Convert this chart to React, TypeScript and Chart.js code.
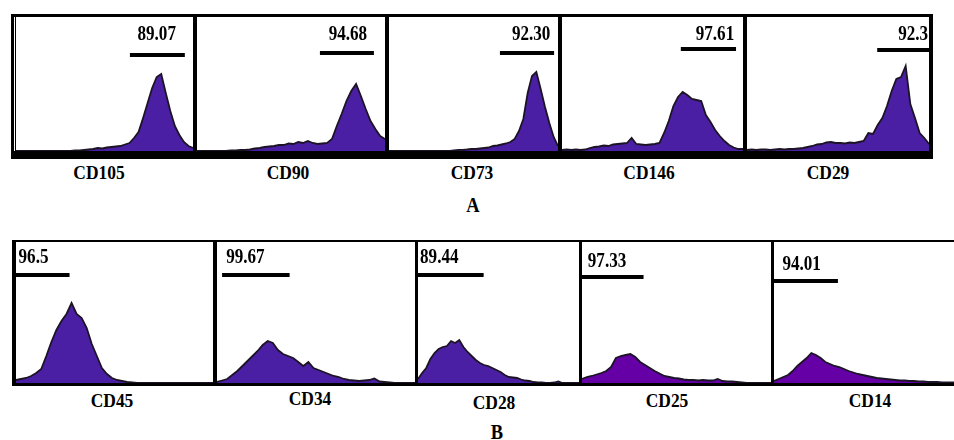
import React, { useEffect, useRef } from "react";
import { Chart, registerables } from "chart.js";

Chart.register(...registerables);

// ---- Data (event counts per fluorescence bin) ----
const markers = ["CD105", "CD90", "CD73", "CD146", "CD29", "CD45", "CD34", "CD28", "CD25", "CD14"];
const percents = ["89.07", "94.68", "92.30", "97.61", "92.3", "96.5", "99.67", "89.44", "97.33", "94.01"];

const cd105 = [0, 0, 0, 0, 0, 0, 0, 0, 0, 0, 0, 0, 0, 0.5, 0.5, 1, 1.5, 2, 3, 2.5, 3.5, 4, 4.5, 5, 6.5, 8, 13, 19, 33, 48, 63, 74, 77, 58, 40, 25, 16, 9, 5, 3];
const cd90 = [0, 0, 0, 0, 0, 0, 0, 0.5, 0.5, 1, 1, 1.5, 2.5, 3, 4, 4.5, 5, 6, 6, 7.5, 7, 9, 8, 10, 8, 7, 7.5, 8, 12, 25, 37, 50, 60, 67, 55, 42, 30, 22, 15, 12];
const cd73 = [0, 0, 0, 0, 0, 0, 0, 0, 0, 0, 0, 0, 0, 0, 0, 0.5, 1, 1.2, 1.5, 2, 2, 2.5, 3, 3.5, 5, 5.5, 6.5, 7.5, 9, 12, 20, 32, 58, 75, 79, 62, 44, 28, 14, 5];
const cd146 = [1, 1.5, 1, 1.5, 1, 1.5, 3, 4, 4.5, 5.5, 5, 6.5, 7, 7.5, 8, 13, 7, 6.5, 6, 6.5, 7, 8, 18, 30, 45, 54, 59, 56, 52, 51, 50, 36, 29, 21, 15, 10, 6, 3.5, 2, 2];
const cd29 = [1, 1.5, 1, 1.5, 1.5, 1, 1.5, 2, 1.5, 2, 2, 2.5, 3, 4, 5, 6.5, 7, 8.5, 9, 8, 8, 7.5, 8.5, 8, 9, 10, 18, 17, 26, 33, 45, 60, 72, 74, 85, 47, 33, 18, 13, 7];
const cd45 = [3, 4, 5, 7, 10, 14, 27, 41, 53, 62, 69, 80, 69, 65, 55, 39, 27, 15, 9, 5, 3, 2, 1, 0.5, 0, 0, 0, 0, 0, 0, 0, 0, 0, 0, 0, 0, 0, 0, 0, 0];
const cd34 = [1, 2.5, 4, 8, 12, 17, 22, 27, 32, 38, 42, 40, 33, 29, 27, 25, 21, 17, 21, 15, 13, 11, 9, 7, 6, 4, 3, 2.5, 2, 2.5, 3, 4.5, 1.5, 1, 0.5, 0, 0, 0, 0, 0];
const cd28 = [4, 10, 15, 24, 30, 34, 36, 37, 42, 40, 43, 36, 31, 27, 23, 20, 18, 17, 15, 13, 11, 8, 6, 5.5, 5, 3.5, 2.5, 2, 1, 0.5, 0.5, 0, 0, 0.5, 1.5, 0, 0, 0, 0, 0];
const cd25 = [4, 6, 7, 8.5, 10, 12, 16, 25, 27, 28, 29, 26, 21, 18, 15, 12, 9.5, 7, 6, 5, 4.5, 3.5, 3, 3, 2.5, 3, 2.5, 2.5, 4, 2, 1.5, 1.5, 1, 0.5, 0, 0, 0, 0, 0, 0];
const cd14 = [2, 4, 6, 8, 12, 17, 21, 25, 30, 28, 25, 21, 19, 17, 16, 14, 12, 10.5, 9, 8, 7, 6, 5, 4.5, 4, 3.5, 3, 2.5, 2.5, 2, 2, 1.5, 1.5, 1, 1, 1, 0.5, 0.5, 0.5, 0.5];

const series = [cd105, cd90, cd73, cd146, cd29, cd45, cd34, cd28, cd25, cd14];

// gate markers (bin units on x, counts on y)
const gateStart = [25.1, 25.5, 25.6, 25.6, 27.9, 0, 1, 0, 0, 0];
const gateEnd = [37.2, 36.7, 38.1, 37.5, 39, 10.6, 14.3, 15.9, 12.7, 13.7];
const gateLevel = [96, 98, 98, 102, 101, 108, 108, 108, 106, 102];
const textAt = [31, 31.3, 32.8, 37.1, 38.8, 0.5, 1.8, 0.5, 1.2, 1.8];
const textLevel = [116, 116, 116, 116, 116, 125, 125, 125, 121, 118];
const textAlign: CanvasTextAlign[] = ["center", "center", "center", "right", "right", "left", "left", "left", "left", "left"];

// ---- Layout / style ----
const ROW_A_MAX = 134;
const ROW_B_MAX = 141;
const boxes = [
  { x: 16, y: 17, w: 177, h: 134 },
  { x: 197, y: 17, w: 188, h: 134 },
  { x: 389, y: 17, w: 169, h: 134 },
  { x: 562, y: 17, w: 181, h: 134 },
  { x: 747, y: 17, w: 182, h: 134 },
  { x: 16, y: 242, w: 197, h: 141 },
  { x: 217, y: 242, w: 198, h: 141 },
  { x: 418, y: 242, w: 161, h: 141 },
  { x: 582, y: 242, w: 189, h: 141 },
  { x: 774, y: 242, w: 182, h: 141 },
];
const labelPos = [
  { x: 99, y: 172 }, { x: 288, y: 172 }, { x: 472, y: 172 }, { x: 649, y: 172 }, { x: 828, y: 172 },
  { x: 112, y: 400 }, { x: 310, y: 398 }, { x: 494, y: 402 }, { x: 667, y: 400 }, { x: 870, y: 400 },
];
const fills = ["#4b1fa3", "#4b1fa3", "#4b1fa3", "#4b1fa3", "#4b1fa3", "#4b1fa3", "#4b1fa3", "#4b1fa3", "#6400a6", "#6400a6"];

const frameBars = [
  // row A
  { x: 11, y: 14, w: 922, h: 3 },
  { x: 11, y: 151, w: 922, h: 8 },
  { x: 11, y: 14, w: 3, h: 145 },
  { x: 15, y: 17, w: 1, h: 134 },
  { x: 193, y: 14, w: 4, h: 145 },
  { x: 385, y: 14, w: 4, h: 145 },
  { x: 558, y: 14, w: 4, h: 145 },
  { x: 743, y: 14, w: 4, h: 145 },
  { x: 929, y: 14, w: 4, h: 145 },
  // row B
  { x: 12, y: 240, w: 942, h: 2 },
  { x: 12, y: 383, w: 942, h: 3 },
  { x: 12, y: 240, w: 4, h: 146 },
  { x: 213, y: 240, w: 4, h: 146 },
  { x: 415, y: 240, w: 3, h: 146 },
  { x: 579, y: 240, w: 3, h: 146 },
  { x: 771, y: 240, w: 3, h: 146 },
];

const FONT = '"Liberation Serif", "Times New Roman", serif';

function Panel({ i }: { i: number }) {
  const ref = useRef<HTMLCanvasElement>(null);
  useEffect(() => {
    if (!ref.current) return;
    const yMax = i < 5 ? ROW_A_MAX : ROW_B_MAX;
    const gatePlugin = {
      id: "gate" + i,
      afterDatasetsDraw(chart: any) {
        const { ctx, scales } = chart;
        const xs = scales.x;
        const ys = scales.y;
        ctx.save();
        ctx.strokeStyle = "#000";
        ctx.lineWidth = 4;
        ctx.lineCap = "butt";
        const gy = ys.getPixelForValue(gateLevel[i]);
        ctx.beginPath();
        ctx.moveTo(xs.getPixelForValue(gateStart[i]), gy);
        ctx.lineTo(xs.getPixelForValue(gateEnd[i]), gy);
        ctx.stroke();
        ctx.fillStyle = "#000";
        ctx.font = "bold 18px " + FONT;
        ctx.textAlign = textAlign[i];
        ctx.textBaseline = "middle";
        const tx = xs.getPixelForValue(textAt[i]);
        const ty = ys.getPixelForValue(textLevel[i]);
        ctx.translate(tx, ty);
        ctx.scale(0.95, 1.12);
        ctx.fillText(percents[i], 0, 0);
        ctx.restore();
      },
    };
    const chart = new Chart(ref.current, {
      type: "line",
      data: {
        datasets: [
          {
            label: markers[i],
            data: series[i].map((v, k) => ({ x: k, y: v })),
            fill: "origin",
            backgroundColor: fills[i],
            borderColor: "#1c1426",
            borderWidth: 1.8,
            pointRadius: 0,
            tension: 0,
          },
        ],
      },
      options: {
        animation: false,
        responsive: false,
        maintainAspectRatio: false,
        events: [],
        layout: { padding: 0 },
        plugins: { legend: { display: false }, tooltip: { enabled: false } },
        scales: {
          x: { type: "linear", min: 0, max: series[i].length - 1, display: false },
          y: { min: 0, max: yMax, display: false },
        },
      },
      plugins: [gatePlugin],
    } as any);
    return () => chart.destroy();
  }, [i]);
  const b = boxes[i];
  return (
    <canvas
      ref={ref}
      width={b.w}
      height={b.h}
      style={{ position: "absolute", left: b.x, top: b.y, width: b.w, height: b.h }}
    />
  );
}

export default function App() {
  const textStyle = (x: number, y: number, size: number): React.CSSProperties => ({
    position: "absolute",
    left: x,
    top: y,
    transform: "translate(-50%, -50%) scale(0.97, 1.1)",
    fontFamily: FONT,
    fontWeight: "bold",
    fontSize: size,
    lineHeight: 1,
    whiteSpace: "nowrap",
    color: "#000",
  });
  return (
    <div style={{ position: "absolute", left: 0, top: 0, width: 954, height: 440, background: "#fff", overflow: "hidden" }}>
      {series.map((_, i) => (
        <Panel key={i} i={i} />
      ))}
      {frameBars.map((f, k) => (
        <div key={"f" + k} style={{ position: "absolute", left: f.x, top: f.y, width: f.w, height: f.h, background: "#000" }} />
      ))}
      {markers.map((m, i) => (
        <div key={"l" + i} style={textStyle(labelPos[i].x, labelPos[i].y, 18)}>
          {m}
        </div>
      ))}
      <div style={textStyle(473, 205, 19)}>A</div>
      <div style={textStyle(497, 432, 19)}>B</div>
    </div>
  );
}
